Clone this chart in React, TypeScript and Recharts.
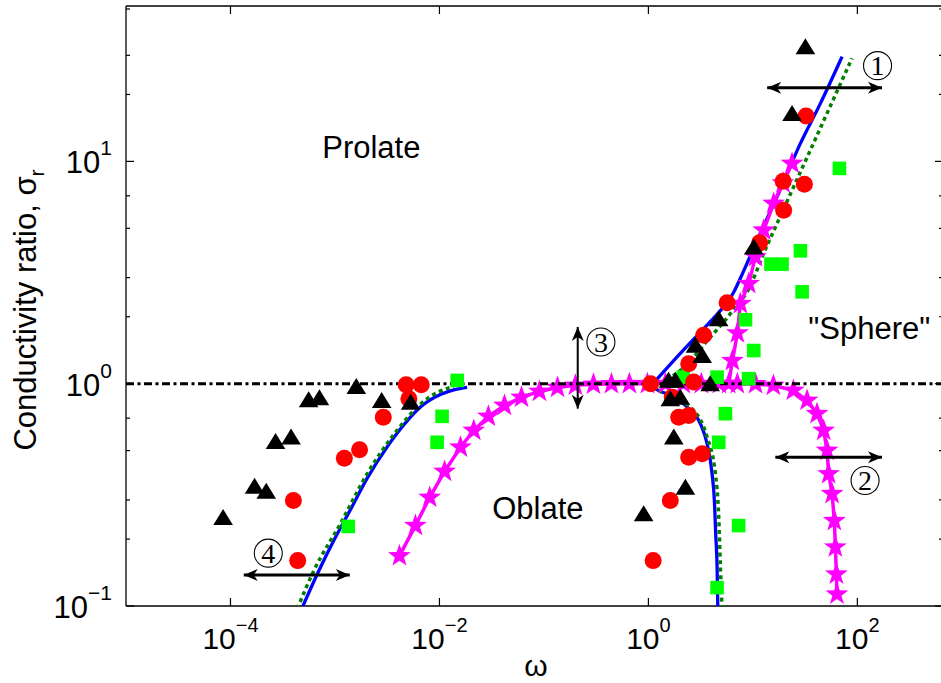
import React from 'react'
import { ScatterChart, Scatter, XAxis, YAxis } from 'recharts'

const FONT = '"Liberation Sans", Arial, Helvetica, sans-serif'
const SERIF = '"Liberation Serif", "Times New Roman", serif'

// layout of the plot box (pixels)
const CHART_W = 946
const CHART_H = 683
const PLOT_LEFT = 126
const PLOT_RIGHT = 943
const PLOT_TOP = 6
const PLOT_BOTTOM = 606

const xDomain = [1e-5, 660]
const yDomain = [0.1, 50]
const xTicks = [1e-4, 1e-2, 1, 100]
const xTickLabels = ['−4', '−2', '0', '2']
const yTicks = [0.1, 0.2, 0.3, 0.4, 0.5, 0.6, 0.7, 0.8, 0.9, 1, 2, 3, 4, 5, 6, 7, 8, 9, 10, 20, 30, 40, 50]
const yMajorTicks = [0.1, 1, 10]
const yTickLabels = ['−1', '0', '1']

// experiments: [omega, sigma_r]
const triangleData: [number, number][] = [
  [8.5e-5, 0.25], [1.7e-4, 0.346], [2.2e-4, 0.328], [2.7e-4, 0.55], [3.8e-4, 0.575],
  [5.6e-4, 0.847], [7.1e-4, 0.865], [1.6e-3, 0.972], [2.8e-3, 0.841], [5.3e-3, 0.826],
  [0.9, 0.26], [2.26, 0.342], [1.75, 0.575], [1.62, 0.856], [2.02, 0.87], [1.56, 1.035],
  [1.81, 1.035], [3.9, 1.0], [2.82, 1.49], [3.27, 1.34], [4.7, 1.96], [10.2, 4.12],
  [23.7, 16.4], [31.8, 32.8],
]
const circleData: [number, number][] = [
  [4.4e-4, 0.16], [4.0e-4, 0.298], [1.23e-3, 0.462], [1.72e-3, 0.504], [2.9e-3, 0.707],
  [4.8e-3, 0.99], [6.7e-3, 0.99], [5.1e-3, 0.856],
  [1.05, 1.0], [1.11, 0.16], [1.62, 0.298], [2.43, 0.467], [3.27, 0.484], [1.95, 0.707],
  [2.43, 0.72], [1.69, 0.87], [2.71, 1.017], [2.43, 1.23], [3.38, 1.65], [5.66, 2.31],
  [11.6, 4.3], [19.7, 6.03], [19.5, 8.15], [31.1, 7.9], [32.3, 16.0],
]
const squareData: [number, number][] = [
  [1.34e-3, 0.228], [9.5e-3, 0.545], [1.06e-2, 0.713], [1.48e-2, 1.035],
  [2.15, 1.07], [4.54, 1.07], [9.1, 1.053], [8.5, 1.94], [10.2, 1.41], [5.46, 0.733],
  [4.71, 0.545], [7.3, 0.23], [4.54, 0.121], [14.9, 3.45], [19.0, 3.45], [28.5, 3.96],
  [29.6, 2.59], [67.3, 9.3],
]

// theory curves
const starMain: [number, number][] = [
  [4.14e-3, 0.168], [5.89e-3, 0.23], [8.07e-3, 0.308], [1.12e-2, 0.403], [1.59e-2, 0.518],
  [2.13e-2, 0.616], [2.94e-2, 0.713], [4.19e-2, 0.798], [6.1e-2, 0.868], [9.06e-2, 0.923],
  [0.135, 0.962], [0.2, 0.983], [0.298, 0.993], [0.443, 0.998], [0.658, 1], [0.978, 1],
  [1.454, 1], [2.16, 1], [3.21, 1], [4.78, 1], [7.1, 1], [10.6, 0.998], [15.7, 0.982],
  [24.4, 0.933], [33.0, 0.841], [41.1, 0.733], [47.6, 0.616], [51.3, 0.501], [53.1, 0.393],
  [57.3, 0.32], [60.2, 0.242], [61.6, 0.184], [63.0, 0.139], [63.7, 0.113],
]
const starBranch: [number, number][] = [
  [5.87, 1.0], [6.37, 1.27], [7.11, 1.69], [7.59, 2.29], [9.12, 2.82], [10.57, 3.72],
  [12.7, 4.9], [15.8, 6.47], [19.4, 7.99], [23.7, 9.79],
]
const blueLeft: [number, number][] = [
  [4.8e-4, 0.097], [6.76e-4, 0.139], [9.74e-4, 0.197], [1.41e-3, 0.272], [2.03e-3, 0.375],
  [3.16e-3, 0.52], [4.91e-3, 0.68], [6.58e-3, 0.785], [1.02e-2, 0.893], [1.4e-2, 0.94],
  [1.84e-2, 0.962],
]
const blueUp: [number, number][] = [
  [1.07, 0.982], [1.746, 1.269], [2.714, 1.585], [3.645, 1.834], [4.887, 2.133], [5.7, 2.324],
  [6.51, 2.564], [7.59, 2.981], [10.97, 4.42], [17.05, 6.93], [28.5, 12.05], [44.3, 18.24],
  [71.4, 29.6],
]
const blueDown: [number, number][] = [
  [1.07, 0.982], [1.166, 0.95], [1.624, 0.886], [2.35, 0.785], [3.146, 0.66], [3.645, 0.537],
  [4.07, 0.393], [4.28, 0.298], [4.406, 0.211], [4.544, 0.149], [4.62, 0.097],
]
const greenLeft: [number, number][] = [
  [4.35e-4, 0.097], [6.27e-4, 0.144], [1.13e-3, 0.235], [2.03e-3, 0.393], [3.65e-3, 0.59],
  [7.62e-3, 0.856], [1.37e-2, 0.975],
]
const greenUp: [number, number][] = [
  [1.1, 0.98], [2.024, 1.148], [3.92, 1.621], [6.09, 2.067], [7.11, 2.3], [8.17, 2.455],
  [13.67, 4.184], [22.84, 7.13], [35.5, 11.24], [59.3, 19.14], [88.9, 29.1],
]
const greenDown: [number, number][] = [
  [1.1, 0.98], [1.401, 0.901], [2.714, 0.758], [3.645, 0.575], [4.375, 0.393], [4.71, 0.251],
  [4.887, 0.149], [5.07, 0.097],
]
const unityLine: [number, number][] = [[1e-5, 1], [660, 1]]

// annotations
const textLabels = ['Prolate', 'Oblate', '"Sphere"']
const textOmega = [2.23e-3, 0.0876, 130]
const textSigma = [10.35, 0.2473, 1.583]
const circledLabels = ['1', '2', '3', '4']
const circledOmega = [156, 118.5, 0.351, 2.3e-4]
const circledSigma = [26.96, 0.3667, 1.539, 0.1729]
const arrow1: [number, number, string][] = [[13.7, 21.45, 'left'], [172, 21.45, 'right']]
const arrow2: [number, number, string][] = [[16.4, 0.467, 'left'], [172, 0.467, 'right']]
const arrow3: [number, number, string][] = [[0.2106, 1.8, 'up'], [0.2106, 0.772, 'down']]
const arrow4: [number, number, string][] = [[1.34e-4, 0.138, 'left'], [1.386e-3, 0.138, 'right']]

const pts = (arr: [number, number][]) => arr.map(([x, y]) => ({ x, y }))
const arrowPts = (arr: [number, number, string][]) => arr.map(([x, y, dir]) => ({ x, y, dir }))

const Triangle = ({ cx, cy }: any) => (
  <path d={`M${cx},${cy - 8.5} L${cx + 9.8},${cy + 7.5} L${cx - 9.8},${cy + 7.5} Z`} fill="#000" />
)
const RedDot = ({ cx, cy }: any) => <circle cx={cx} cy={cy} r={8.5} fill="#ff0000" />
const GreenSquare = ({ cx, cy }: any) => (
  <rect x={cx - 6.8} y={cy - 6.8} width={13.6} height={13.6} fill="#00ff00" />
)
const Star = ({ cx, cy }: any) => {
  const R = 12
  const r = 4.8
  let d = ''
  for (let i = 0; i < 10; i++) {
    const rad = i % 2 === 0 ? R : r
    const a = -Math.PI / 2 + (i * Math.PI) / 5
    d += (i === 0 ? 'M' : 'L') + (cx + rad * Math.cos(a)).toFixed(2) + ',' + (cy + rad * Math.sin(a)).toFixed(2)
  }
  return <path d={d + 'Z'} fill="#ff00ff" />
}
const NoMark = () => <g />
const ArrowHead = ({ cx, cy, payload }: any) => {
  const angles: Record<string, number> = { right: 0, left: 180, up: -90, down: 90 }
  return (
    <path
      d="M0,0 L-14,-6 L-10,0 L-14,6 Z"
      transform={`translate(${cx},${cy}) rotate(${angles[payload.dir]})`}
      fill="#000"
    />
  )
}
const TextMark = ({ cx, cy, payload }: any) => (
  <text x={cx} y={cy} textAnchor="middle" fontSize={31} fontFamily={FONT} fill="#000">
    {payload.label}
  </text>
)
const CircledMark = ({ cx, cy, payload }: any) => (
  <g>
    <circle cx={cx} cy={cy} r={14} fill="none" stroke="#000" strokeWidth={1.1} />
    <text x={cx} y={cy + 9.5} textAnchor="middle" fontSize={28} fontFamily={SERIF} fill="#000">
      {payload.label}
    </text>
  </g>
)

const BottomTick = ({ x, payload }: any) => {
  const i = xTicks.indexOf(payload.value)
  return (
    <g>
      <line x1={x} x2={x} y1={PLOT_BOTTOM} y2={PLOT_BOTTOM - 8} stroke="#000" strokeWidth={1.2} />
      <text x={x} y={649} textAnchor="middle" fontSize={30} fontFamily={FONT} fill="#000">
        10<tspan dy={-17} fontSize={20}>{xTickLabels[i]}</tspan>
      </text>
    </g>
  )
}
const TopTick = ({ x }: any) => (
  <line x1={x} x2={x} y1={PLOT_TOP} y2={PLOT_TOP + 8} stroke="#000" strokeWidth={1.2} />
)
const LeftTick = ({ y, payload }: any) => {
  const i = yMajorTicks.indexOf(payload.value)
  const major = i >= 0
  return (
    <g>
      <line x1={PLOT_LEFT} x2={PLOT_LEFT + (major ? 8 : 4)} y1={y} y2={y} stroke="#000" strokeWidth={1.2} />
      {major && (
        <text x={112} y={y + 12} textAnchor="end" fontSize={31} fontFamily={FONT} fill="#000">
          10<tspan dy={-18} fontSize={21}>{yTickLabels[i]}</tspan>
        </text>
      )}
    </g>
  )
}
const RightTick = ({ y, payload }: any) => {
  const major = yMajorTicks.includes(payload.value)
  return <line x1={PLOT_RIGHT} x2={PLOT_RIGHT - (major ? 8 : 4)} y1={y} y2={y} stroke="#000" strokeWidth={1.2} />
}

const curve = (color: string, dash?: string, w = 3) => ({ stroke: color, strokeWidth: w, strokeDasharray: dash })

export default function App() {
  return (
    <div style={{ position: 'absolute', left: 0, top: 0, width: 941, height: 683, overflow: 'hidden', background: '#fff' }}>
      <ScatterChart width={CHART_W} height={CHART_H} margin={{ top: 0, right: 0, bottom: 0, left: 0 }}>
        <XAxis
          xAxisId={0}
          dataKey="x"
          type="number"
          scale="log"
          domain={xDomain}
          allowDataOverflow
          ticks={xTicks}
          tick={<BottomTick />}
          tickLine={false}
          height={CHART_H - PLOT_BOTTOM}
          axisLine={{ stroke: '#000', strokeWidth: 1.3 }}
        />
        <XAxis
          xAxisId="top"
          orientation="top"
          dataKey="x"
          type="number"
          scale="log"
          domain={xDomain}
          allowDataOverflow
          ticks={xTicks}
          tick={<TopTick />}
          tickLine={false}
          height={PLOT_TOP}
          axisLine={{ stroke: '#000', strokeWidth: 1.3 }}
        />
        <YAxis
          yAxisId={0}
          dataKey="y"
          type="number"
          scale="log"
          domain={yDomain}
          allowDataOverflow
          ticks={yTicks}
          tick={<LeftTick />}
          tickLine={false}
          width={PLOT_LEFT}
          axisLine={{ stroke: '#000', strokeWidth: 1.3 }}
        />
        <YAxis
          yAxisId="right"
          orientation="right"
          dataKey="y"
          type="number"
          scale="log"
          domain={yDomain}
          allowDataOverflow
          ticks={yTicks}
          tick={<RightTick />}
          tickLine={false}
          width={CHART_W - PLOT_RIGHT}
          axisLine={{ stroke: '#000', strokeWidth: 1.3 }}
        />

        <Scatter data={pts(blueLeft)} shape={NoMark} line={curve('#0000ff', undefined, 3.3)} lineJointType="monotoneX" isAnimationActive={false} />
        <Scatter data={pts(blueUp)} shape={NoMark} line={curve('#0000ff', undefined, 3.3)} lineJointType="monotoneX" isAnimationActive={false} />
        <Scatter data={pts(blueDown)} shape={NoMark} line={curve('#0000ff', undefined, 3.3)} lineJointType="monotoneX" isAnimationActive={false} />
        <Scatter data={pts(greenLeft)} shape={NoMark} line={curve('#007f00', '4 3.5', 3.5)} lineJointType="monotoneX" isAnimationActive={false} />
        <Scatter data={pts(greenUp)} shape={NoMark} line={curve('#007f00', '4 3.5', 3.5)} lineJointType="monotoneX" isAnimationActive={false} />
        <Scatter data={pts(greenDown)} shape={NoMark} line={curve('#007f00', '4 3.5', 3.5)} lineJointType="monotoneX" isAnimationActive={false} />
        <Scatter data={pts(starMain)} shape={Star} line={curve('#ff00ff', undefined, 3.5)} isAnimationActive={false} />
        <Scatter data={pts(starBranch)} shape={Star} line={curve('#ff00ff', undefined, 3.5)} isAnimationActive={false} />
        <Scatter data={pts(unityLine)} shape={NoMark} line={curve('#000', '8 3.5 3 3.5')} isAnimationActive={false} />
        <Scatter data={pts(squareData)} shape={GreenSquare} isAnimationActive={false} />
        <Scatter data={pts(circleData)} shape={RedDot} isAnimationActive={false} />
        <Scatter data={pts(triangleData)} shape={Triangle} isAnimationActive={false} />

        <Scatter data={arrowPts(arrow1)} shape={ArrowHead} line={curve('#000')} isAnimationActive={false} />
        <Scatter data={arrowPts(arrow2)} shape={ArrowHead} line={curve('#000')} isAnimationActive={false} />
        <Scatter data={arrowPts(arrow3)} shape={ArrowHead} line={curve('#000', undefined, 2)} isAnimationActive={false} />
        <Scatter data={arrowPts(arrow4)} shape={ArrowHead} line={curve('#000')} isAnimationActive={false} />
        <Scatter
          data={textLabels.map((label, i) => ({ x: textOmega[i], y: textSigma[i], label }))}
          shape={TextMark}
          isAnimationActive={false}
        />
        <Scatter
          data={circledLabels.map((label, i) => ({ x: circledOmega[i], y: circledSigma[i], label }))}
          shape={CircledMark}
          isAnimationActive={false}
        />
      </ScatterChart>
      <svg width={941} height={683} style={{ position: 'absolute', left: 0, top: 0, pointerEvents: 'none' }}>
        <text transform="translate(36,310) rotate(-90)" textAnchor="middle" fontSize={31} fontFamily={FONT} fill="#000">
          Conductivity ratio, σ<tspan dy={8} fontSize={21}>r</tspan>
        </text>
        <text x={536} y={676} textAnchor="middle" fontSize={30} fontFamily={FONT} fill="#000">
          ω
        </text>
      </svg>
    </div>
  )
}
